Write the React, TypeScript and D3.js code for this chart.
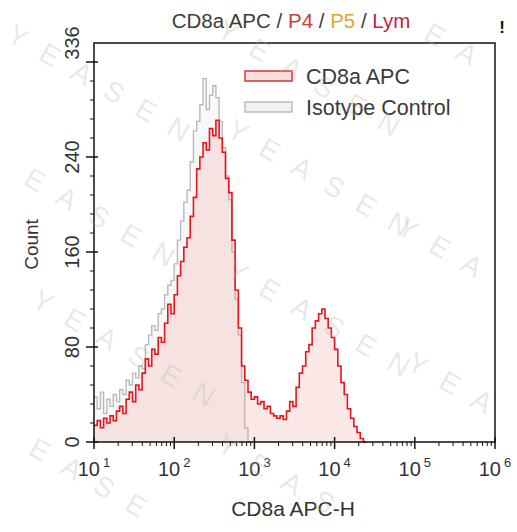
import React, { useEffect, useRef } from 'react';
import * as d3 from 'd3';

// histogram bins: log10 start and width
const binStart = 1.0;
const binWidth = 0.04;

const cd8aCounts = [
  14, 18, 12, 20, 16, 22, 18, 26, 30, 24, 36, 42, 34, 48, 44, 58, 70, 64, 78, 74,
  88, 84, 100, 116, 108, 124, 140, 152, 164, 172, 190, 206, 230, 240, 252, 246, 264, 258, 271, 256,
  244, 222, 210, 170, 128, 96, 64, 52, 42, 36, 38, 32, 34, 28, 30, 24, 22, 20, 22, 19,
  26, 34, 30, 46, 58, 64, 76, 82, 96, 102, 108, 112, 104, 96, 88, 78, 64, 50, 40, 28,
  20, 13, 8, 3, 0,
];

const isotypeCounts = [
  38, 28, 42, 24, 36, 30, 40, 34, 44, 40, 52, 48, 58, 54, 64, 62, 82, 90, 98, 94,
  108, 112, 124, 132, 136, 150, 170, 186, 202, 212, 236, 262, 270, 284, 306, 280, 292, 300, 290, 270,
  248, 224, 204, 160, 120, 90, 50, 12, 0,
];

const yTicksMajor = [0, 80, 160, 240, 320];
const yTickLabels = [0, 80, 160, 240, 336];
const xDecades = [1, 2, 3, 4, 5, 6];

const titleParts = [
  { text: 'CD8a APC', color: '#3c3c3c' },
  { text: ' / ', color: '#3c3c3c' },
  { text: 'P4', color: '#c8403a' },
  { text: ' / ', color: '#3c3c3c' },
  { text: 'P5', color: '#e0a632' },
  { text: ' / ', color: '#3c3c3c' },
  { text: 'Lym', color: '#c51d3c' },
];

const legendItems = [
  { label: 'CD8a APC', stroke: '#d8343a', fill: '#f9dede' },
  { label: 'Isotype Control', stroke: '#bcbcbc', fill: '#f1f1f1' },
];

const W = 517;
const H = 532;
const font = '"Liberation Sans", Arial, sans-serif';

const App: React.FC = () => {
  const svgRef = useRef<SVGSVGElement>(null);

  useEffect(() => {
    if (!svgRef.current) return;
    const svg = d3.select(svgRef.current);
    svg.selectAll('*').remove();

    const left = 94, right = 495, top = 43, bottom = 442;

    const x = d3.scaleLog().domain([10, 1e6]).range([left, right]);
    const y = d3.scaleLinear().domain([0, 336]).range([bottom, top]);

    const toPoints = (counts: number[]) => {
      const pts = counts.map((c, i) => [Math.pow(10, binStart + i * binWidth), c] as [number, number]);
      pts.push([Math.pow(10, binStart + counts.length * binWidth), 0]);
      return pts;
    };

    const area = d3.area<[number, number]>()
      .x(d => x(d[0]))
      .y0(y(0))
      .y1(d => y(d[1]))
      .curve(d3.curveStepAfter);
    const line = d3.line<[number, number]>()
      .x(d => x(d[0]))
      .y(d => y(d[1]))
      .curve(d3.curveStepAfter);

    const plot = svg.append('g');

    // isotype control first, then CD8a on top
    const iso = toPoints(isotypeCounts);
    plot.append('path').attr('d', area(iso)).attr('fill', 'rgba(205,205,205,0.14)');
    plot.append('path').attr('d', line(iso)).attr('fill', 'none')
      .attr('stroke', '#b9b9b9').attr('stroke-width', 1.4);

    const cd8 = toPoints(cd8aCounts);
    plot.append('path').attr('d', area(cd8)).attr('fill', 'rgba(245,160,160,0.24)');
    plot.append('path').attr('d', line(cd8)).attr('fill', 'none')
      .attr('stroke', '#e8141c').attr('stroke-width', 1.6);

    // frame
    svg.append('rect')
      .attr('x', left).attr('y', top)
      .attr('width', right - left).attr('height', bottom - top)
      .attr('fill', 'none').attr('stroke', '#111').attr('stroke-width', 1.5);

    // x ticks
    const xt = svg.append('g');
    xDecades.forEach((k, idx) => {
      const v = Math.pow(10, k);
      xt.append('line').attr('x1', x(v)).attr('x2', x(v))
        .attr('y1', bottom - 5).attr('y2', bottom + 7)
        .attr('stroke', '#111').attr('stroke-width', 1.5);
      if (idx < xDecades.length - 1) {
        for (let m = 2; m <= 9; m++) {
          const mv = m * v;
          xt.append('line').attr('x1', x(mv)).attr('x2', x(mv))
            .attr('y1', bottom).attr('y2', bottom + 4)
            .attr('stroke', '#111').attr('stroke-width', 1);
        }
      }
      const t = xt.append('text')
        .attr('x', x(v)).attr('y', bottom + 34)
        .attr('text-anchor', 'middle')
        .attr('font-family', font).attr('font-size', 20).attr('fill', '#333');
      t.append('tspan').text('10');
      t.append('tspan').attr('dx', 3).attr('dy', -9).attr('font-size', 13).text(String(k));
    });

    // y ticks
    const yt = svg.append('g');
    for (let v = 16; v < 336; v += 16) {
      if (v % 80 === 0) continue;
      yt.append('line').attr('x1', left - 4).attr('x2', left)
        .attr('y1', y(v)).attr('y2', y(v))
        .attr('stroke', '#111').attr('stroke-width', 1);
    }
    yTicksMajor.forEach(v => {
      yt.append('line').attr('x1', left - 8).attr('x2', left + 4)
        .attr('y1', y(v)).attr('y2', y(v))
        .attr('stroke', '#111').attr('stroke-width', 1.5);
    });
    yTickLabels.forEach(v => {
      yt.append('text')
        .attr('transform', `translate(${left - 15},${y(v)}) rotate(-90)`)
        .attr('text-anchor', 'middle')
        .attr('font-family', font).attr('font-size', 20).attr('fill', '#333')
        .text(String(v));
    });

    // axis titles
    svg.append('text')
      .attr('transform', `translate(38,${(top + bottom) / 2 + 2}) rotate(-90)`)
      .attr('text-anchor', 'middle')
      .attr('font-family', font).attr('font-size', 19).attr('fill', '#333')
      .text('Count');
    svg.append('text')
      .attr('x', 293).attr('y', 516)
      .attr('text-anchor', 'middle')
      .attr('font-family', font).attr('font-size', 21).attr('fill', '#333')
      .text('CD8a APC-H');

    // title
    const title = svg.append('text')
      .attr('x', 291).attr('y', 28)
      .attr('text-anchor', 'middle')
      .attr('font-family', font).attr('font-size', 20.5);
    titleParts.forEach(p => title.append('tspan').attr('fill', p.color).text(p.text));

    svg.append('text')
      .attr('x', 502).attr('y', 33)
      .attr('text-anchor', 'middle')
      .attr('font-family', font).attr('font-size', 17).attr('font-weight', 'bold')
      .attr('fill', '#111').text('!');

    // legend
    const lg = svg.append('g');
    legendItems.forEach((it, i) => {
      const ly = 71 + i * 31;
      lg.append('rect').attr('x', 245).attr('y', ly).attr('width', 47).attr('height', 10)
        .attr('fill', it.fill).attr('stroke', it.stroke).attr('stroke-width', 1.5);
      lg.append('text').attr('x', 306).attr('y', ly + 13)
        .attr('font-family', font).attr('font-size', 21.5).attr('fill', '#3a3a3a')
        .text(it.label);
    });

    // watermark, letter by letter along 30° lines
    const wm = svg.append('g').attr('pointer-events', 'none');
    const word = 'YEASEN';
    const wmStarts: [number, number][] = [
      [5, 40], [215, 35], [390, 20], [-10, 165], [225, 135], [395, 232],
      [30, 305], [225, 275], [405, 368], [-5, 435], [215, 450],
    ];
    const ang = 30 * Math.PI / 180;
    const step = 37;
    wmStarts.forEach(([sx, sy]) => {
      for (let j = 0; j < word.length; j++) {
        const px = sx + j * step * Math.cos(ang);
        const py = sy + j * step * Math.sin(ang);
        if (px < 2 || px > W - 32 || py < 24 || py > H - 22) continue;
        wm.append('text')
          .attr('transform', `translate(${px},${py}) rotate(30)`)
          .attr('font-family', font).attr('font-size', 28)
          .attr('fill', 'rgba(175,175,175,0.28)')
          .text(word[j]);
      }
    });
  }, []);

  return (
    <svg
      ref={svgRef}
      width={W}
      height={H}
      style={{ position: 'absolute', left: 0, top: 0, background: '#fff' }}
    />
  );
};

export default App;
